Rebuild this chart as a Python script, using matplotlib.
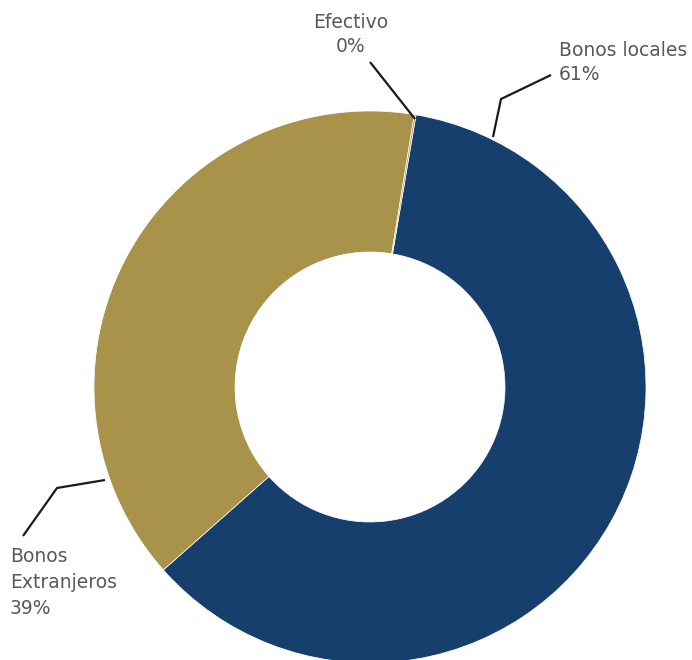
import matplotlib.pyplot as plt

# data
categories = ['Bonos locales', 'Bonos\nExtranjeros', 'Efectivo']
values = [60.8, 39.1, 0.1]
colors = ['#173F6E', '#A99249', '#A99249']

W, H = 692, 660
fig = plt.figure(figsize=(W / 100, H / 100), dpi=100)
ax = fig.add_axes([0, 0, 1, 1])

cx, cy, r_out, r_in = 370, H - 387, 276, 135
ax.pie(values, colors=colors, startangle=80.4, counterclock=False,
       center=(cx, cy), radius=r_out, frame=True,
       wedgeprops=dict(width=r_out - r_in, edgecolor='white', linewidth=0.5))
ax.set_xlim(0, W)
ax.set_ylim(0, H)
ax.set_aspect('equal')
ax.axis('off')

txt = dict(color='#58595B', fontsize=13.5, family='DejaVu Sans')
pct = ['%d%%' % round(v) for v in values]

# leader lines (pixel coords, y from top)
def leader(pts):
    xs = [p[0] for p in pts]
    ys = [H - p[1] for p in pts]
    ax.plot(xs, ys, color='#1A1A1A', lw=1.6, solid_capstyle='butt')

leader([(493, 137), (501, 99), (551, 75)])
leader([(415, 119), (370, 62)])
leader([(105, 480), (57, 488), (23, 536)])

# labels
ax.text(559, H - 51, categories[0], ha='left', va='center', **txt)
ax.text(559, H - 75, pct[0], ha='left', va='center', **txt)

ax.text(351, H - 23, categories[2], ha='center', va='center', **txt)
ax.text(351, H - 46, pct[2], ha='center', va='center', **txt)

lines = categories[1].split('\n') + [pct[1]]
for i, s in enumerate(lines):
    ax.text(10, H - (556 + 26 * i), s, ha='left', va='center', **txt)

fig.savefig('out.png', dpi=100)
